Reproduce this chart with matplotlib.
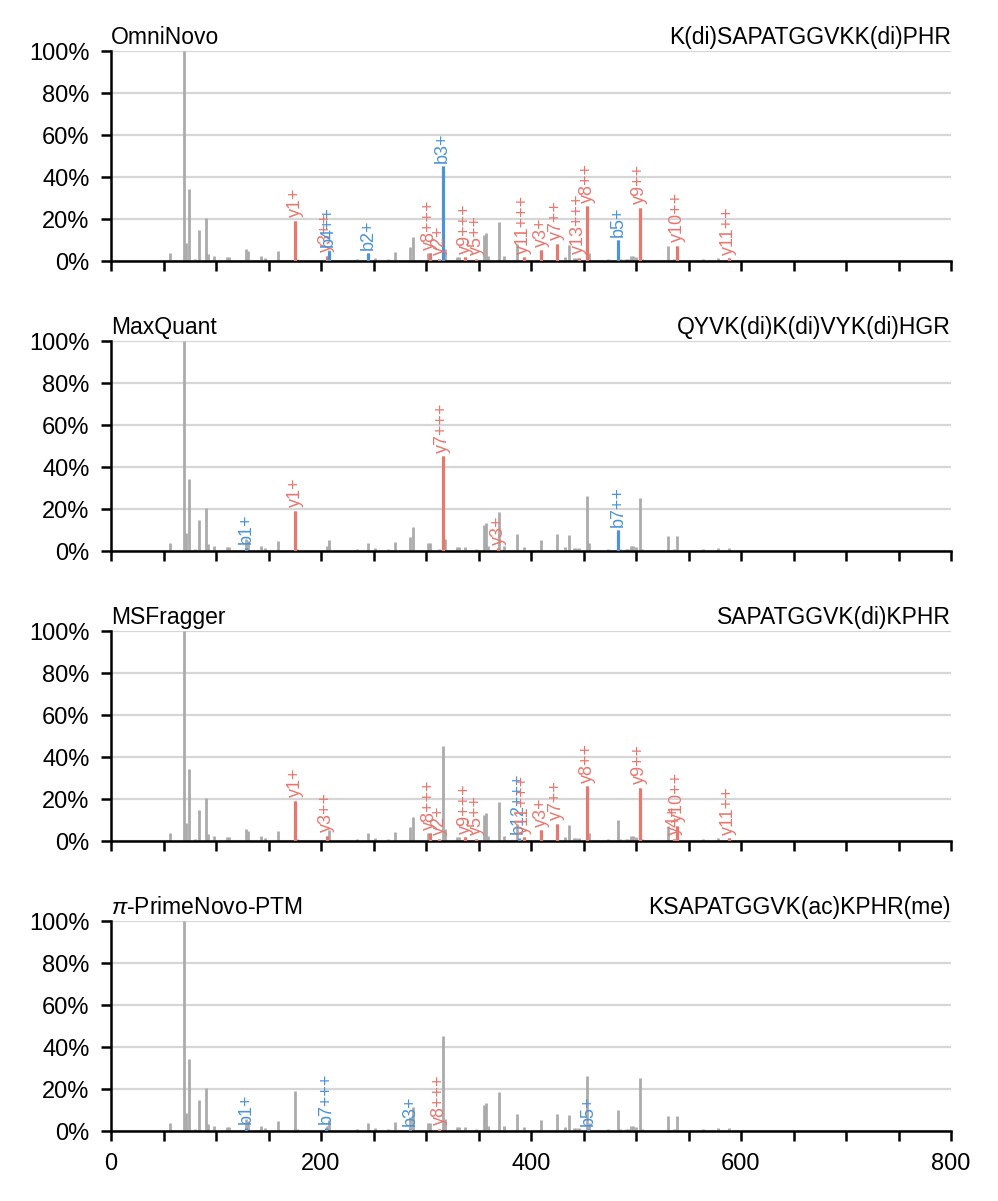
import matplotlib
matplotlib.use("Agg")
import matplotlib.pyplot as plt
from matplotlib.ticker import MultipleLocator, FuncFormatter

plt.rcParams['font.family'] = ['Liberation Sans', 'DejaVu Sans']
plt.rcParams['mathtext.fontset'] = 'custom'
plt.rcParams['mathtext.it'] = 'Liberation Sans:italic'
plt.rcParams['mathtext.rm'] = 'Liberation Sans'

# ---------------- data ----------------
spectrum_mz = [55.8, 69.8, 71.7, 73.9, 80.3, 83.8, 90.8, 92.7, 98.2, 110.0,
               112.5, 129.0, 130.7, 142.8, 146.6, 159.3, 175.3, 177.2, 205.3, 207.2,
               234.2, 244.7, 251.1, 263.5, 270.2, 285.2, 287.4, 301.5, 303.7, 312.6,
               315.8, 317.7, 329.8, 331.4, 337.2, 347.7, 355.0, 357.3, 359.2, 369.3,
               374.7, 386.8, 393.0, 409.5, 424.6, 432.0, 435.8, 440.9, 443.2, 445.5,
               453.4, 455.0, 473.8, 483.0, 484.7, 490.8, 492.5, 495.0, 497.6, 500.0,
               503.7, 506.0, 530.5, 536.6, 539.3, 563.7, 578.3, 588.2]
spectrum_int = [4.0, 100.0, 8.6, 34.4, 1.0, 14.8, 20.7, 3.5, 2.2, 1.8,
                1.8, 5.8, 4.8, 2.2, 1.6, 4.8, 19.2, 1.0, 2.4, 5.3,
                1.0, 4.0, 1.4, 1.0, 4.3, 6.7, 11.5, 4.0, 4.0, 1.0,
                45.2, 5.6, 1.8, 1.8, 1.8, 1.0, 12.4, 13.4, 2.2, 18.6,
                2.4, 8.0, 1.8, 5.1, 8.3, 1.8, 7.5, 1.5, 1.5, 1.6,
                26.0, 4.0, 1.0, 10.0, 1.0, 1.0, 1.0, 2.2, 2.2, 2.0,
                25.3, 1.0, 7.0, 1.0, 7.3, 1.0, 1.3, 1.3]

tools = ["OmniNovo", "MaxQuant", "MSFragger", r"$\pi$-PrimeNovo-PTM"]
peptides = ["K(di)SAPATGGVKK(di)PHR", "QYVK(di)K(di)VYK(di)HGR",
            "SAPATGGVK(di)KPHR", "KSAPATGGVK(ac)KPHR(me)"]

omninovo_mz = [175.3, 205.3, 207.2, 244.7, 303.7, 312.6, 315.8, 337.2, 347.7,
               393.0, 409.5, 424.6, 445.5, 453.4, 483.0, 503.7, 539.3, 588.2]
omninovo_int = [19.2, 2.4, 4.8, 3.7, 3.7, 1.0, 45.2, 1.8, 1.0,
                1.8, 5.1, 8.3, 1.6, 26.0, 10.0, 25.3, 7.3, 1.3]
omninovo_labels = ["y1+", "y3++", "b4++", "b2+", "y8+++", "y2+", "b3+", "y9+++", "y5++",
                   "y11+++", "y3+", "y7++", "y13+++", "y8++", "b5+", "y9++", "y10++", "y11++"]
omninovo_types = ["y", "y", "b", "b", "y", "y", "b", "y", "y",
                  "y", "y", "y", "y", "y", "b", "y", "y", "y"]

maxquant_mz = [128.6, 175.3, 315.8, 369.0, 483.0]
maxquant_int = [1.5, 19.2, 45.2, 1.2, 10.0]
maxquant_labels = ["b1+", "y1+", "y7+++", "y3+", "b7++"]
maxquant_types = ["b", "y", "y", "y", "b"]

msfragger_mz = [175.3, 205.3, 303.7, 312.6, 337.2, 347.7, 388.2, 393.0, 409.5,
                424.6, 453.4, 503.7, 536.6, 539.3, 588.2]
msfragger_int = [19.2, 2.4, 3.7, 1.0, 1.8, 1.0, 1.5, 1.8, 5.1,
                 8.3, 26.0, 25.3, 1.0, 7.3, 1.3]
msfragger_labels = ["y1+", "y3++", "y8+++", "y2+", "y9+++", "y5++", "b12+++", "y11+++", "y3+",
                    "y7++", "y8++", "y9++", "y4+", "y10++", "y11++"]
msfragger_types = ["y", "y", "y", "y", "y", "y", "b", "y", "y",
                   "y", "y", "y", "y", "y", "y"]

primenovo_mz = [128.6, 205.0, 284.6, 312.6, 454.6]
primenovo_int = [1.5, 1.5, 0.8, 1.0, 0.8]
primenovo_labels = ["b1+", "b7+++", "b3+", "y8+++", "b5+"]
primenovo_types = ["b", "b", "b", "y", "b"]

annotations = [
    (omninovo_mz, omninovo_int, omninovo_labels, omninovo_types),
    (maxquant_mz, maxquant_int, maxquant_labels, maxquant_types),
    (msfragger_mz, msfragger_int, msfragger_labels, msfragger_types),
    (primenovo_mz, primenovo_int, primenovo_labels, primenovo_types),
]

ion_colors = {"y": "#E8776E", "b": "#4C93D8"}
gray = "#ABABAB"

# ---------------- figure ----------------
W, H = 998, 1201
fig = plt.figure(figsize=(W / 100, H / 100), dpi=100)

left = 111 / W
width = 840 / W
height = 210 / H

for i in range(4):
    bottom = 1 - (261 + 290 * i) / H
    ax = fig.add_axes([left, bottom, width, height])
    ax.set_axisbelow(True)
    ax.vlines(spectrum_mz, 0, spectrum_int, color=gray, lw=2.0, zorder=2)
    mz, inten, labs, types = annotations[i]
    cols = [ion_colors[t] for t in types]
    ax.vlines(mz, 0, inten, colors=cols, lw=2.3, zorder=3)
    for m, h, lab, c in zip(mz, inten, labs, cols):
        ax.annotate(lab, (m, h), xytext=(0, 2.5), textcoords='offset points',
                    rotation=90, ha='center', va='bottom', color=c,
                    fontsize=13, zorder=4)
    ax.set_xlim(0, 800)
    ax.set_ylim(0, 100)
    ax.xaxis.set_major_locator(MultipleLocator(50))
    ax.yaxis.set_major_locator(MultipleLocator(20))
    ax.yaxis.set_major_formatter(FuncFormatter(lambda v, p: f"{int(round(v))}%"))
    if i == 3:
        ax.xaxis.set_major_formatter(
            FuncFormatter(lambda v, p: f"{int(round(v))}" if int(round(v)) % 200 == 0 else ""))
    else:
        ax.tick_params(axis='x', labelbottom=False)
    ax.grid(axis='y', color='#D6D6D6', lw=1.6)
    ax.grid(axis='x', visible=False)
    for s in ("top", "right"):
        ax.spines[s].set_visible(False)
    for s in ("left", "bottom"):
        ax.spines[s].set_linewidth(1.8)
        ax.spines[s].set_color("black")
    ax.tick_params(axis='both', direction='out', length=7.5, width=1.8,
                   labelsize=17, pad=8)
    ax.set_title(tools[i], loc='left', fontsize=16.5, pad=5)
    ax.set_title(peptides[i], loc='right', fontsize=16.5, pad=5)

fig.savefig("out.png", dpi=100)
